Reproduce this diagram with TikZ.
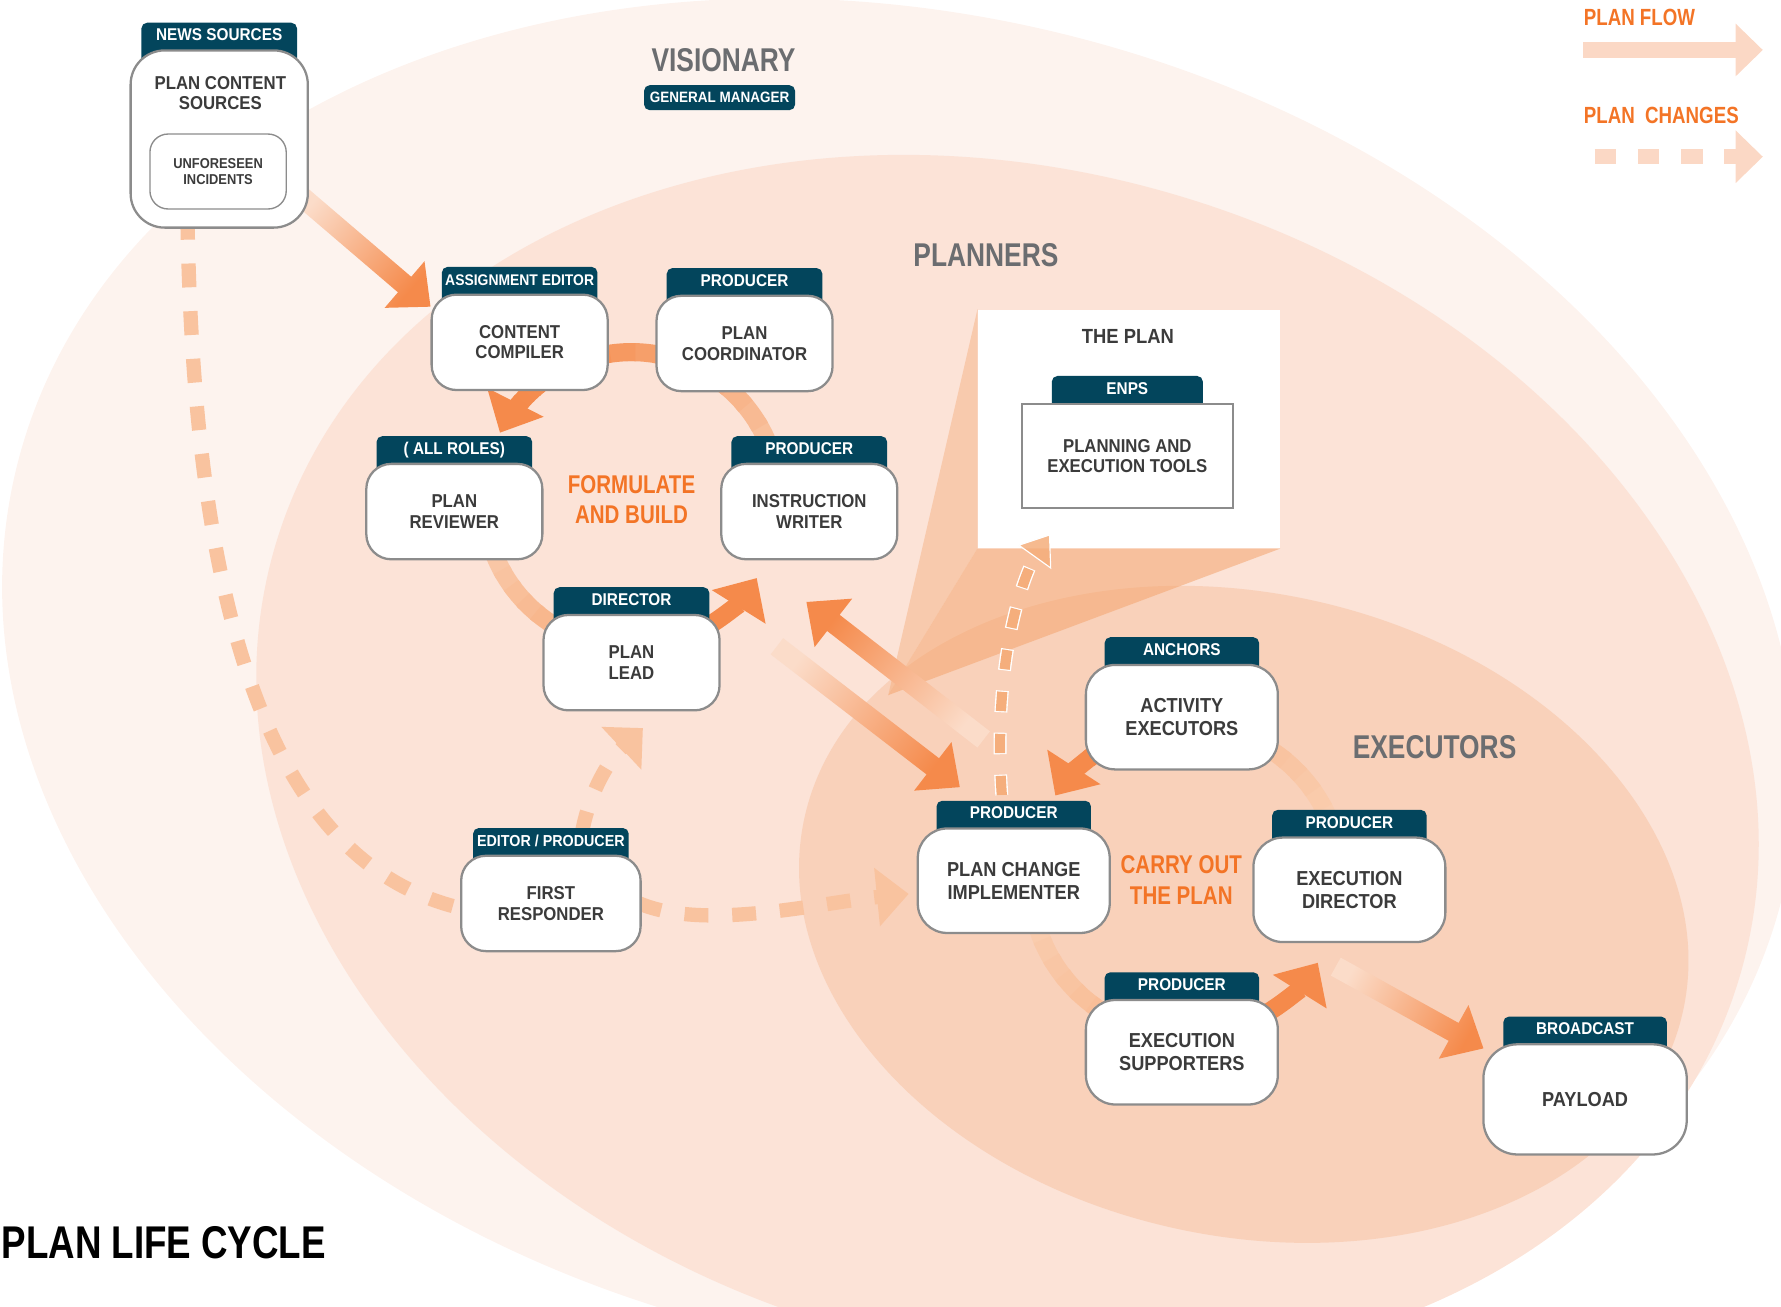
\documentclass[tikz,border=0pt]{standalone}
\usepackage{fontspec}
\setmainfont{Liberation Sans}
\newfontfamily\boxfont[FakeStretch=0.9]{Liberation Sans}
\newfontfamily\headfont[FakeStretch=0.8]{Liberation Sans}
\usetikzlibrary{positioning,calc,arrows.meta}

\definecolor{visbg}{HTML}{FDF3EE}
\definecolor{planbg}{HTML}{FCE3D7}
\definecolor{execbg}{HTML}{F9D1BA}
\definecolor{wedgeor}{HTML}{F4A56E}
\definecolor{tabblue}{HTML}{03455C}
\definecolor{boxline}{HTML}{8C8C8C}
\definecolor{boxtext}{HTML}{3B3B3B}
\definecolor{headgray}{HTML}{6B6D70}
\definecolor{plorange}{HTML}{F37426}
\definecolor{flowor}{HTML}{F58A4B}
\definecolor{flowpale}{HTML}{FBDCC9}
\definecolor{ringpale}{HTML}{FAD2B6}
\definecolor{dashor}{HTML}{F9C39F}
\definecolor{dashdeep}{HTML}{F5AE7C}
\definecolor{legendor}{HTML}{FBD8C5}

\newcommand\boxtext{\boxfont\bfseries\fontsize{8.2}{9}\selectfont}
\newcommand\bigtext{\boxfont\bfseries\fontsize{8.9}{10}\selectfont}
\newcommand\tabtext{\boxfont\bfseries\fontsize{7.5}{8}\selectfont}
\newcommand\headtext{\headfont\bfseries\fontsize{14.5}{16}\selectfont}
\newcommand\cycletext{\headfont\bfseries\fontsize{11.3}{13.5}\selectfont}
\newcommand\keytext{\headfont\bfseries\fontsize{10.3}{12}\selectfont}

\tikzset{
  rolebox/.style={draw=boxline, line width=1pt, fill=white, rounded corners=11pt,
    minimum width=77.5pt, minimum height=42pt, align=center, text=boxtext, font=\boxtext},
  rolebig/.style={rolebox, rounded corners=13pt, minimum width=84.5pt, minimum height=46pt, font=\bigtext},
  roletab/.style={fill=tabblue, text=white, rounded corners=2.5pt, minimum width=68.5pt,
    text height=5pt, text depth=8pt, inner ysep=3pt, inner xsep=1pt, font=\tabtext},
  ringline/.style={line width=8pt},
  planchange/.style={draw=dashor, line width=6.3pt, dash pattern=on 10.5pt off 10.5pt},
  areatitle/.style={text=headgray, font=\headtext},
  cyclelabel/.style={text=plorange, font=\cycletext, align=center},
}

% shaded plan-flow arrow between two named coordinates
\newcommand\flowarrow[2]{%
  \pgfmathanglebetweenpoints{\pgfpointanchor{#1}{center}}{\pgfpointanchor{#2}{center}}%
  \pgfmathsetmacro\fang{\pgfmathresult+90}%
  \coordinate (fb) at ($(#2)!15pt!(#1)$);
  \shade[left color=flowpale, middle color=flowor!70!flowpale, right color=flowor, shading angle=\fang]
    ($(#1)!4.5pt!90:(#2)$) -- ($(fb)!4.5pt!-90:(#1)$) -- ($(fb)!13.5pt!-90:(#1)$) -- (#2)
    -- ($(fb)!13.5pt!90:(#1)$) -- ($(fb)!4.5pt!90:(#1)$) -- ($(#1)!4.5pt!-90:(#2)$) -- cycle;
}
% ring segment with a colour ramp: centre, radius, from, to, % from, % to
\newcommand\ringarc[6]{%
  \foreach \k in {0,...,11}{%
    \pgfmathsetmacro\ra{#3+(#4-#3)*\k/12}%
    \pgfmathsetmacro\rb{#3+(#4-#3)*(\k+1.25)/12}%
    \pgfmathtruncatemacro\rp{#5+(#6-#5)*\k/11}%
    \draw[ringline, draw=flowor!\rp!ringpale] ($(#1)+(\ra:#2)$) arc[start angle=\ra, end angle=\rb, radius=#2];
  }}
\newcommand\ringhead[4]{%
  \draw[ringline, draw=flowor, -{Triangle[length=15pt,width=27pt]}] ($(#1)+(#3:#2)$) arc[start angle=#3, end angle=#4, radius=#2];}

\begin{document}
\begin{tikzpicture}[x=0.5pt, y=-0.5pt]
  \useasboundingbox (0,0) rectangle (1568,1150);
  \clip (0,0) rectangle (1568,1150);

  % visionary / planners / executors areas
  \fill[visbg, rotate around={-13.4:(792,600)}] (792,600) ellipse [x radius=800, y radius=588];
  \fill[planbg, rotate around={-16.3:(887,670)}] (887,670) ellipse [x radius=672, y radius=520];
  \fill[execbg, rotate around={-12.4:(1095,805)}] (1095,805) ellipse [x radius=396, y radius=283];

  % the plan callout
  \node[fill=white, minimum width=133pt, minimum height=105pt, inner sep=0pt] (planbox) at (994,377.5) {};
  \coordinate (apex) at (782,612);
  \fill[wedgeor, fill opacity=.4] (planbox.north west) -- (apex) -- (planbox.south west) -- cycle;
  \fill[wedgeor, fill opacity=.55] (planbox.south west) -- (apex) -- (planbox.south east) -- cycle;

  % formulate and build cycle
  \coordinate (fcycle) at (556,440);
  \ringarc{fcycle}{130}{0}{-118}{10}{95}
  \ringarc{fcycle}{130}{-118}{-140}{90}{100}
  \ringhead{fcycle}{130}{-138}{-153}
  \ringarc{fcycle}{130}{180}{95}{0}{60}
  \ringarc{fcycle}{130}{85}{58}{70}{100}
  \ringhead{fcycle}{130}{60}{32}

  % carry out cycle
  \coordinate (ccycle) at (1044,775);
  \ringarc{ccycle}{137}{-5}{-95}{0}{40}
  \ringarc{ccycle}{137}{-100}{-128}{75}{100}
  \ringhead{ccycle}{137}{-125}{-147}
  \ringarc{ccycle}{137}{180}{90}{0}{45}
  \ringarc{ccycle}{137}{85}{58}{75}{100}
  \ringhead{ccycle}{137}{60}{32}

  % plan flow
  \coordinate (f1a) at (262,170); \coordinate (f1b) at (379,270);
  \flowarrow{f1a}{f1b}
  \coordinate (f2a) at (684,569); \coordinate (f2b) at (845,693);
  \flowarrow{f2a}{f2b}
  \coordinate (f3a) at (866,651); \coordinate (f3b) at (710,530);
  \flowarrow{f3a}{f3b}
  \coordinate (f5a) at (1176,851); \coordinate (f5b) at (1306,923);
  \flowarrow{f5a}{f5b}

  % plan changes
  \coordinate (d1a) at (165,190); \coordinate (d1b) at (408,800);
  \draw[planchange] (d1a) .. controls (170,520) and (230,760) .. (d1b);
  \coordinate (d2a) at (562,795); \coordinate (d2b) at (800,787);
  \draw[planchange, -{Triangle[length=14pt,width=25pt]}] (d2a) .. controls (620,820) and (720,795) .. (d2b);
  \coordinate (d3a) at (512,735); \coordinate (d3b) at (566,641);
  \draw[planchange, -{Triangle[length=13pt,width=25pt]}] (d3a) .. controls (518,700) and (535,670) .. (d3b);
  \coordinate (d4a) at (882,700); \coordinate (d4b) at (911,490);
  \draw[dashdeep, line width=4.5pt, dash pattern=on 8.5pt off 10pt,
    preaction={draw=white, line width=5.7pt, dash pattern=on 9.5pt off 9pt, dash phase=.5pt}]
    (d4a) .. controls (875,600) and (893,525) .. (d4b);
  \coordinate (d4l) at (897,480); \coordinate (d4t) at (924,471); \coordinate (d4r) at (925,500);
  \fill[dashdeep, fill opacity=.85, draw=white, line width=.5pt] (d4l) -- (d4t) -- (d4r) -- cycle;

  % news sources
  \node[roletab] (newstab) at (193,39) {NEWS SOURCES};
  \node[rolebox, rounded corners=15pt, minimum width=78pt, minimum height=78pt, below=-7.5pt of newstab] (news) {};
  \node[font=\boxtext, text=boxtext, align=center] (newstext) at (194,82) {PLAN CONTENT\\SOURCES};
  \node[draw=boxline, line width=.6pt, fill=white, rounded corners=8pt, minimum width=60pt, minimum height=33pt,
    align=center, text=boxtext, font={\boxfont\bfseries\fontsize{6.3}{7}\selectfont}] (unforeseen) at (192,151) {UNFORESEEN\\INCIDENTS};

  % planners
  \node[roletab, font={\boxfont\bfseries\fontsize{6.8}{8}\selectfont}] (comptab) at (457.5,254) {ASSIGNMENT EDITOR};
  \node[rolebox, below=-7.5pt of comptab] (compiler) {CONTENT\\COMPILER};
  \node[roletab] (coordtab) at (655.5,255) {PRODUCER};
  \node[rolebox, below=-7.5pt of coordtab] (coordinator) {PLAN\\COORDINATOR};
  \node[roletab] (revtab) at (400,403) {( ALL ROLES)};
  \node[rolebox, below=-7.5pt of revtab] (reviewer) {PLAN\\REVIEWER};
  \node[roletab] (writtab) at (712.5,403) {PRODUCER};
  \node[rolebox, below=-7.5pt of writtab] (writer) {INSTRUCTION\\WRITER};
  \node[roletab] (leadtab) at (556,536) {DIRECTOR};
  \node[rolebox, below=-7.5pt of leadtab] (lead) {PLAN\\LEAD};
  \node[roletab, font={\boxfont\bfseries\fontsize{7}{8}\selectfont}] (resptab) at (485,748) {EDITOR / PRODUCER};
  \node[rolebox, minimum width=79pt, below=-7.5pt of resptab] (responder) {FIRST\\RESPONDER};

  % executors
  \node[roletab, minimum width=68pt] (impltab) at (892.5,724) {PRODUCER};
  \node[rolebig, below=-7.5pt of impltab] (implementer) {PLAN CHANGE\\IMPLEMENTER};
  \node[roletab, minimum width=68pt] (acttab) at (1040.5,580) {ANCHORS};
  \node[rolebig, below=-7.5pt of acttab] (activity) {ACTIVITY\\EXECUTORS};
  \node[roletab, minimum width=68pt] (dirtab) at (1188,732) {PRODUCER};
  \node[rolebig, below=-7.5pt of dirtab] (director) {EXECUTION\\DIRECTOR};
  \node[roletab, minimum width=68pt] (supptab) at (1040.5,875) {PRODUCER};
  \node[rolebig, below=-7.5pt of supptab] (supporters) {EXECUTION\\SUPPORTERS};
  \node[roletab, minimum width=72pt] (paytab) at (1395.5,914) {BROADCAST};
  \node[rolebig, rounded corners=15pt, minimum width=89.5pt, minimum height=48.5pt, below=-7.5pt of paytab] (payload) {PAYLOAD};

  % the plan
  \node[font={\boxfont\bfseries\fontsize{9}{10}\selectfont}, text=boxtext] (plantitle) at (993,296) {THE PLAN};
  \node[roletab, minimum width=66.5pt] (enpstab) at (992.5,350) {ENPS};
  \node[draw=boxline, line width=1pt, fill=white, minimum width=93pt, minimum height=46pt, align=center,
    font=\boxtext, text=boxtext, below=-7.5pt of enpstab] (tools) {PLANNING AND\\EXECUTION TOOLS};

  % area titles
  \node[areatitle] (visionary) at (637,53) {VISIONARY};
  \node[fill=tabblue, text=white, rounded corners=2.5pt, minimum width=66.5pt, minimum height=11pt, inner sep=0pt,
    font={\boxfont\bfseries\fontsize{6.6}{7}\selectfont}] (gm) at (633.5,86) {GENERAL MANAGER};
  \node[areatitle] (planners) at (868,225) {PLANNERS};
  \node[areatitle] (executors) at (1263,658) {EXECUTORS};
  \node[cyclelabel] (formulate) at (556,440) {FORMULATE\\AND BUILD};
  \node[cyclelabel] (carryout) at (1040,775) {CARRY OUT\\THE PLAN};

  % legend
  \node[anchor=west, inner sep=0pt, text=plorange, font=\keytext] (flowkey) at (1394,15.5) {PLAN FLOW};
  \coordinate (fk1) at (1394,44); \coordinate (fk2) at (1552,44);
  \draw[legendor, line width=7pt, -{Triangle[length=12pt,width=22.5pt]}] (fk1) -- (fk2);
  \node[anchor=west, inner sep=0pt, text=plorange, font=\keytext] (changekey) at (1394,101.5) {PLAN\ \ CHANGES};
  \coordinate (ck1) at (1404,138); \coordinate (ck2) at (1552,138);
  \draw[legendor, line width=6.5pt, dash pattern=on 9.5pt off 9.5pt, -{Triangle[length=12pt,width=22.5pt]}] (ck1) -- (ck2);

  % title
  \node[anchor=west, inner sep=0pt, font={\headfont\bfseries\fontsize{20.2}{24}\selectfont}] (lifecycle) at (1,1094) {PLAN LIFE CYCLE};
\end{tikzpicture}
\end{document}
